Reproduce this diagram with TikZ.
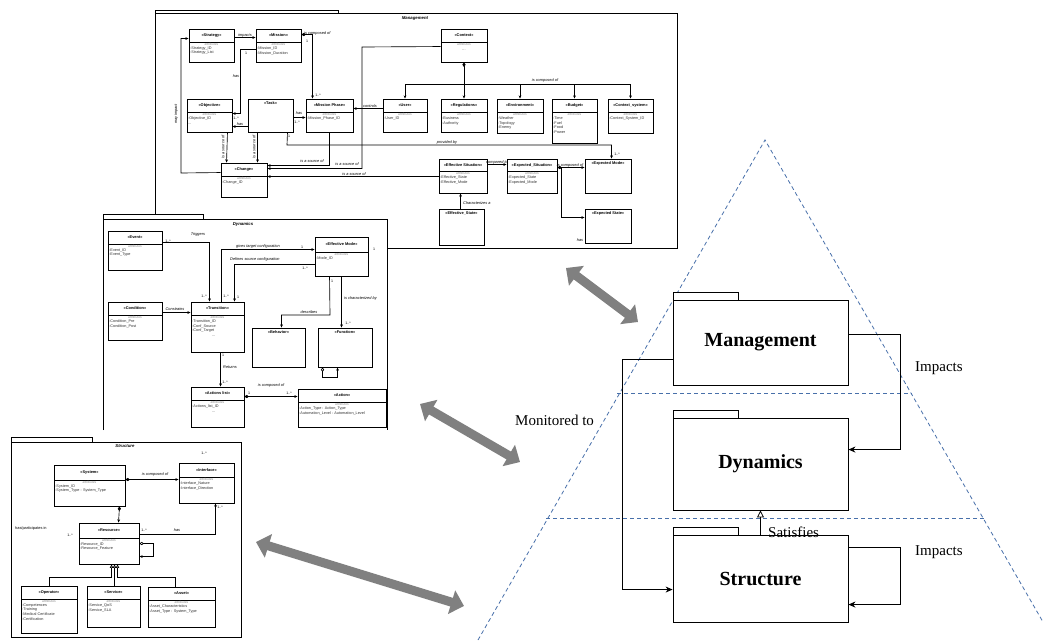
\documentclass[tikz,border=0pt]{standalone}
\usepackage{fontspec}
\setmainfont{Liberation Serif}
\newfontfamily\umlf{Liberation Sans}
\usetikzlibrary{arrows.meta,fit,calc}
\definecolor{tricol}{RGB}{72,112,170}
\tikzset{
 ubox/.style={draw=black, line width=0.95pt, fill=white, inner sep=0pt},
 conn/.style={draw=black, line width=0.65pt},
 arr/.style={-{Stealth[length=3.2pt,width=2.8pt]}},
 diaarr/.style={{Diamond[length=4.5pt,width=3.2pt]}-{Stealth[length=3.2pt,width=2.8pt]}},
 dia/.style={{Diamond[length=4.5pt,width=3.2pt]}-},
 odiaarr/.style={{Diamond[open,length=4.5pt,width=3.2pt]}-{Stealth[length=3.2pt,width=2.8pt]}},
 gen/.style={conn,-{Triangle[open,length=3.5pt,width=3.5pt]}},
 lbl/.style={font=\umlf\fontsize{3.9}{4.4}\selectfont\itshape, inner sep=0pt},
 mult/.style={font=\umlf\fontsize{3.6}{4}\selectfont, inner sep=0pt},
 ttl/.style={font=\umlf\fontsize{3.9}{4.4}\selectfont\bfseries, inner sep=0pt},
 attr/.style={font=\umlf\fontsize{3.8}{4.7}\selectfont, inner sep=0pt, align=left, text=black!80},
 attrh/.style={font=\umlf\fontsize{3.3}{4}\selectfont, inner sep=0pt, text=black!45},
 frm/.style={draw=black, line width=0.7pt, fill=white},
 frmlbl/.style={font=\umlf\fontsize{4.3}{5}\selectfont\bfseries\itshape, inner sep=0pt},
 pkg/.style={draw=black, line width=0.9pt, fill=white},
 pkglbl/.style={font=\fontsize{20}{24}\selectfont\bfseries, inner sep=0pt},
 big/.style={font=\fontsize{15}{18}\selectfont, inner sep=0pt},
 pconn/.style={draw=black, line width=0.8pt},
 parr/.style={-{Stealth[length=7pt,width=6pt]}},
 tri/.style={draw=tricol, line width=0.8pt, dash pattern=on 4pt off 3pt},
 gbar/.style={draw=black!50, line width=9pt, {Triangle[length=13pt,width=24pt]}-{Triangle[length=13pt,width=24pt]}},
}
\newcommand\umlc[8]{%
  \node[ubox, fit={(#2,#3) (#4,#5)}] (#1) {};
  \draw[line width=0.95pt] (#2,{#3+#7}) -- (#4,{#3+#7});
  \node[ttl] at ({(#2+#4)/2},{#3+#7/2}) {#6};
  \node[attrh] at ({(#2+#4)/2},{#3+#7+2.6}) {attributes};
  \node[attr, anchor=north west] at ({#2+1},{#3+#7+4.4}) {#8};
}
\newcommand\umlt[6]{%
  \node[ubox, fit={(#2,#3) (#4,#5)}] (#1) {};
  \node[ttl] at ({(#2+#4)/2},{#3+4.5}) {#6};
}
\begin{document}
\begin{tikzpicture}[x=1pt,y=-1pt]
\useasboundingbox[fill=white] (0,0) rectangle (1043,640);

% ================= MANAGEMENT =================
\draw[frm] (155,10) rectangle (338,13);
\draw[frm] (155,13) rectangle (677,248);
\node[frmlbl] at (415,18) {Management};

\umlc{strategy}{189}{29}{234}{62}{«Strategy»}{13}{-Strategy\_ID\\-Strategy\_List}
\umlc{mission}{256}{29}{301}{62}{«Mission»}{13}{-Mission\_ID\\-Mission\_Duration}
\umlc{objective}{187}{99}{232}{132}{«Objective»}{13}{-Objective\_ID\\...}
\umlt{task}{248}{99}{293}{132}{«Task»}
\umlc{mphase}{306}{99}{353}{132}{«Mission Phase»}{13}{-Mission\_Phase\_ID}
\umlc{context}{441}{29}{487}{62}{«Context»}{13}{}
\node[attr] at (464,50) {...};
\umlc{user}{383}{99}{427}{132}{«User»}{13}{-User\_ID}
\umlc{regul}{441}{99}{487}{132}{«Regulations»}{13}{-Business\\-Authority}
\umlc{environ}{497}{99}{543}{133}{«Environment»}{13}{-Weather\\-Topology\\-Enemy}
\umlc{budget}{552}{99}{597}{143}{«Budget»}{13}{-Time\\-Fuel\\-Food\\-Power}
\umlc{ctxsys}{608}{99}{653}{133}{«Context\_system»}{13}{-Context\_System\_ID}
\umlc{change}{221}{163}{267}{197}{«Change»}{13}{-Change\_ID}
\umlc{effsit}{439}{159}{487}{193}{«Effective Situation»}{12}{-Effective\_State\\-Effective\_Mode}
\umlc{expsit}{507}{159}{557}{193}{«Expected\_Situation»}{12}{-Expected\_State\\-Expected\_Mode}
\umlt{expmode}{585}{159}{631}{193}{«Expected Mode»}
\umlt{expstate}{585}{209}{631}{243}{«Expected State»}
\umlt{effstate}{439}{209}{484}{245}{«Effective\_State»}

% impacts
\draw[conn,arr] ([yshift=-9pt]strategy.north east) -- ([yshift=-9pt]mission.north west);
\node[lbl] at (245,35) {impacts};
% is composed of (mission -> mission phase)
\draw[conn,diaarr] ([yshift=-6pt]mission.north east) -| ([xshift=7pt]mphase.north west);
\node[lbl,anchor=west] at (304,33) {is composed of};
\node[mult] at (307,41) {1};
\node[mult] at (318,95) {1..*};
% has (mission -> objective)
\draw[conn,arr] ([yshift=-21pt]mission.north west) -- ++(-15,0) |- ([yshift=-15pt]objective.north east);
\node[lbl] at (236,76) {has};
\node[mult] at (246,53) {1};
\node[mult] at (236,118) {1..*};
% has (task -> objective)
\draw[conn,arr] ([yshift=-28pt]task.north west) -- ([yshift=-28pt]objective.north east);
\node[lbl] at (240,124) {has};
% has (task -> mission phase)
\draw[conn,arr] ([yshift=-19pt]task.north east) -- ([yshift=-19pt]mphase.north west);
\node[lbl] at (299,113) {has};
\node[mult] at (297,122) {1..*};
% context composition
\coordinate (bus) at (464,84);
\draw[conn,dia] (context.south) -- (bus);
\foreach \c in {user,regul,environ,budget,ctxsys}{\draw[conn,arr] (bus) -| (\c.north);}
\node[lbl] at (545,80) {is composed of};
% controls
\draw[conn,arr] ([yshift=-10pt]user.north west) -- ([yshift=-10pt]mphase.north east);
\node[lbl] at (370,106) {controls};
% is a source of (context -> change)
\draw[conn,arr] ([yshift=-18pt]context.north west) -- (362,47) |- ([yshift=-6pt]change.north east);
\node[lbl] at (347,164) {is a source of};
% is a source of (mission phase -> change)
\draw[conn,arr] (mphase.south) |- ([yshift=-3pt]change.north east);
\node[lbl] at (312,161) {is a source of};
% is a source of (effective situation -> change)
\draw[conn,arr] ([yshift=-18pt]effsit.north west) -- ([yshift=-14pt]change.north east);
\node[lbl] at (354,174) {is a source of};
% objective/task -> change
\draw[conn,arr] ([xshift=-5pt]objective.south east) -- ([xshift=6pt]change.north west);
\node[lbl,rotate=90] at (223,147) {is a source of};
\draw[conn,arr] ([xshift=10pt]task.south west) -- ([xshift=37pt]change.north west);
\node[lbl,rotate=90] at (254,147) {is a source of};
% may impact
\draw[conn,arr] ([yshift=-10pt]change.north west) -- (181,173) |- ([yshift=-10pt]strategy.north west);
\node[lbl,rotate=90] at (176,114) {may impact};
% provided by
\draw[conn,arr] ([xshift=-6pt]task.south east) -- (287,145) -| ([xshift=27pt]expmode.north west);
\node[lbl] at (447,142) {provided by};
\node[mult] at (289,136) {1};
\node[mult] at (617,154) {1..*};
% compared to
\draw[conn,arr] ([yshift=-6pt]effsit.north east) -- ([yshift=-6pt]expsit.north west);
\node[lbl] at (497,162) {compared to};
% expected situation composition
\draw[conn,diaarr] ([yshift=-9pt]expsit.north east) -- ([yshift=-9pt]expmode.north west);
\draw[conn,arr] ([yshift=-9pt,xshift=4pt]expsit.north east) |- ([yshift=-9pt]expstate.north west);
\node[lbl] at (570,165) {is composed of};
\node[lbl] at (580,240) {has};
% characterizes
\draw[conn,arr] ([xshift=22pt]effstate.north west) -- ([xshift=22pt]effsit.south west);
\node[lbl,anchor=west] at (463,203) {Characterizes a};

% ================= DYNAMICS =================
\fill[white] (103,214) rectangle (387,430);
\draw[frm] (103,214) rectangle (203,219);
\draw[line width=0.7pt] (103,430) -- (103,219) -- (387,219) -- (387,430);
\node[frmlbl] at (243,224) {Dynamics};

\umlc{event}{108}{231}{162}{270}{«Event»}{13}{-Event\_ID\\-Event\_Type}
\umlc{condition}{108}{302}{162}{340}{«Condition»}{13}{-Condition\_Pre\\-Condition\_Post}
\umlc{transition}{191}{302}{244}{352}{«Transition»}{13}{-Transition\_ID\\-Conf\_Source\\-Conf\_Target\\\hspace{20pt}...}
\umlc{effmode}{315}{237}{368}{276}{«Effective Mode»}{15}{-Mode\_ID}
\umlt{behavior}{252}{328}{305}{367}{«Behavior»}
\umlt{function}{318}{328}{372}{367}{«Function»}
\umlc{actlist}{191}{387}{244}{427}{«Actions list»}{13}{-Actions\_list\_ID\\\hspace{20pt}...}
\umlc{action}{298}{389}{386}{427}{«Action»}{13}{-Action\_Type : Action\_Type\\-Automation\_Level : Automation\_Level}

\draw[conn,arr] ([yshift=-12pt]event.north east) -| ([xshift=19pt]transition.north west);
\node[lbl] at (198,234) {Triggers};
\node[mult] at (168,241) {1..*};
\node[mult] at (204,296) {1..*};
\draw[conn,arr] ([yshift=-11pt]condition.north east) -- ([yshift=-11pt]transition.north west);
\node[lbl] at (175,309) {Constrains};
\draw[conn,arr] ([xshift=31pt]transition.north west) |- ([yshift=-13pt]effmode.north west);
\node[lbl,anchor=west] at (236,246) {gives target configuration};
\node[mult] at (302,247) {1};
\node[mult] at (226,296) {1..*};
\draw[conn,arr] ([yshift=-28pt]effmode.north west) -| ([xshift=44pt]transition.north west);
\node[lbl,anchor=west] at (230,259) {Defines source configuration};
\node[mult] at (305,268) {1..*};
\node[mult] at (238,297) {1};
\node[mult] at (374,249) {1};
\draw[conn,arr] ([xshift=15pt]effmode.south west) -- (330,315) -| ([xshift=30pt]behavior.north west);
\node[lbl] at (309,312) {describes};
\node[mult] at (332,281) {1};
\draw[conn,arr] ([xshift=27pt]effmode.south west) -- ([xshift=24pt]function.north west);
\node[lbl,anchor=west] at (344,298) {is characterized by};
\node[mult] at (348,323) {1..*};
\draw[conn,odiaarr] ([xshift=5pt]function.south west) -- ++(0,10) -| ([xshift=20pt]function.south west);
\draw[conn,arr] ([xshift=30pt]transition.south west) -- ([xshift=30pt]actlist.north west);
\node[lbl,anchor=west] at (223,367) {Returns};
\node[mult] at (223,355) {1};
\node[mult] at (225,382) {1..*};
\draw[conn,diaarr] ([yshift=-10pt]actlist.north east) -- ([yshift=-8pt]action.north west);
\node[lbl] at (271,385) {is composed of};
\node[mult] at (249,393) {1};
\node[mult] at (289,393) {1..*};

% ================= STRUCTURE =================
\draw[frm] (11,437) rectangle (92,442);
\draw[frm] (11,442) rectangle (241,637);
\node[frmlbl] at (125,446) {Structure};

\umlc{system}{54}{465}{125}{506}{«System»}{15}{-System\_ID\\-System\_Type : System\_Type}
\umlc{interface}{179}{463}{234}{503}{«Interface»}{14}{-Interface\_Nature\\-Interface\_Direction}
\umlc{resource}{79}{523}{139}{564}{«Resource»}{15}{-Resource\_ID\\-Resource\_Feature}
\umlc{operator}{21}{586}{77}{633}{«Operator»}{13}{-Competences\\-Training\\-Medical Certificate\\-Certification}
\umlc{service}{87}{586}{140}{627}{«Service»}{13}{-Service\_QoS\\-Service\_SLA}
\umlc{asset}{148}{587}{215}{627}{«Asset»}{13}{-Asset\_Characteristics\\-Asset\_Type : System\_Type}

\draw[conn,diaarr] ([yshift=-15pt]system.north east) -- ([yshift=-17pt]interface.north west);
\node[lbl] at (155,474) {is composed of};
\node[mult] at (204,453) {1..*};
\draw[conn,diaarr] ([xshift=-6pt]system.south east) -- ([xshift=40pt]resource.north west);
\draw[conn,arr] ([yshift=-12pt]resource.north east) -| ([xshift=37pt]interface.south west);
\node[lbl] at (177,530) {has};
\node[mult] at (144,530) {1..*};
\node[mult] at (220,507) {1..*};
\draw[conn,odiaarr] ([yshift=-21pt]resource.north east) -- ++(14,0) |- ([yshift=-34pt]resource.north east);
\draw[gen] (operator.north) -- ++(0,-8) -| ([xshift=33pt]resource.south west);
\draw[gen] ([xshift=28pt]service.north west) -- ([xshift=36pt]resource.south west);
\draw[gen] ([xshift=28pt]asset.north west) -- ++(0,-9) -| ([xshift=39pt]resource.south west);
\node[lbl,font=\umlf\fontsize{3.9}{4.4}\selectfont,anchor=west] at (15,528) {has/participates in};
\node[mult] at (70,535) {1..*};

% ================= PYRAMID =================
\draw[tri] (478,640) -- (765,140) -- (1043,622);
\draw[tri] (617,393) -- (912,393);
\draw[tri] (546,518) -- (985,518);

\draw[pkg] (673,292) rectangle (738,300);
\node[pkg, fit={(673,300) (848,385)}, inner sep=0pt] (pm) {};
\node[pkglbl] at (pm.center) {Management};
\draw[pkg] (673,410) rectangle (738,418);
\node[pkg, fit={(673,418) (848,510)}, inner sep=0pt] (pd) {};
\node[pkglbl] at (pd.center) {Dynamics};
\draw[pkg] (673,527) rectangle (738,535);
\node[pkg, fit={(673,535) (848,622)}, inner sep=0pt] (ps) {};
\node[pkglbl] at (ps.center) {Structure};

\draw[pconn,parr] ([yshift=-35pt]pm.north east) -- ++(52,0) |- ([yshift=-32pt]pd.north east);
\node[big,anchor=west] at (915,368) {Impacts};
\draw[pconn,parr] ([yshift=-13pt]ps.north east) -- ++(52,0) |- ([yshift=-70pt]ps.north east);
\node[big,anchor=west] at (915,552) {Impacts};
\draw[pconn,parr] ([yshift=-60pt]pm.north west) -- ++(-50,0) |- ([yshift=-55pt]ps.north west);
\node[big,anchor=west] at (515,420) {Monitored to};
\draw[pconn,-{Triangle[open,length=7pt,width=7pt]}] (ps.north) -- (pd.south);
\node[big,anchor=west] at (768,532) {Satisfies};

% ================= GREY DOUBLE ARROWS =================
\coordinate (g1a) at (566,268); \coordinate (g1b) at (638,322);
\coordinate (g2a) at (420,404); \coordinate (g2b) at (520,462);
\coordinate (g3a) at (256,542); \coordinate (g3b) at (464,606);
\draw[gbar] (g1a) -- (g1b);
\draw[gbar] (g2a) -- (g2b);
\draw[gbar] (g3a) -- (g3b);
\end{tikzpicture}
\end{document}
